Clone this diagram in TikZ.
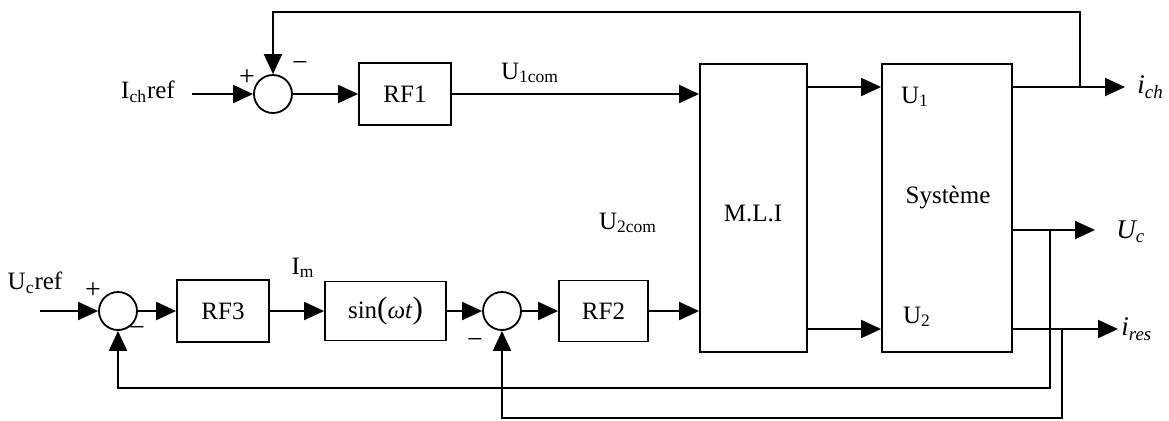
\documentclass[tikz,border=0pt]{standalone}
\usepackage{fontspec}
\setmainfont{Liberation Serif}
\usetikzlibrary{arrows.meta,positioning,calc}
\tikzset{
  blk/.style={draw,line width=.9pt,minimum width=46pt,minimum height=31pt,inner sep=1pt},
  sumnd/.style={circle,draw,line width=.9pt,minimum size=19pt,inner sep=0pt},
  sarrow/.style={-{Triangle[length=10pt,width=9pt]},line width=1pt},
  sgn/.style={inner sep=0pt,font=\fontsize{14}{14}\selectfont},
  txt/.style={inner sep=0pt},
  outlbl/.style={anchor=west,inner sep=0pt,font=\fontsize{13.5}{15}\selectfont\itshape}
}

\begin{document}
\begin{tikzpicture}[x=0.5pt,y=-0.5pt,font=\fontsize{12.5}{14}\selectfont]
  \useasboundingbox (0,0) rectangle (1169,420);
  % top loop
  \node[txt] (ichref) at (148,92) {I\textsubscript{ch}ref};
  \coordinate (in1) at (192,94);
  \node[sumnd] (s1) at (273,94) {};
  \node[sgn] (p1) at (247,78) {+};
  \node[sgn] (m1) at (300,66) {−};
  \node[blk] (rf1) at (405,94) {RF1};
  \node[txt] (u1com) at (530,73) {U\textsubscript{1com}};
  % bottom loop
  \node[txt] (ucref) at (35,283) {U\textsubscript{c}ref};
  \coordinate (in3) at (40,311);
  \node[sumnd] (s3) at (118,311) {};
  \node[sgn] (p3) at (93,291) {+};
  \node[sgn] (m3) at (137,331) {−};
  \node[blk] (rf3) at (223,311) {RF3};
  \node[blk,minimum width=60.5pt,minimum height=29.5pt] (sinw) at (385.5,311)
    {sin{\fontsize{15.5}{15}\selectfont(}\textit{ωt}{\fontsize{15.5}{15}\selectfont)}};
  \node[txt] (im) at (303,268) {I\textsubscript{m}};
  \node[sumnd] (s2) at (502,311) {};
  \node[sgn] (m2) at (475,343) {−};
  \node[blk,minimum width=44.5pt,minimum height=30.5pt] (rf2) at (603.5,311) {RF2};
  \node[txt] (u2com) at (628,223) {U\textsubscript{2com}};
  % converter and plant
  \node[blk,minimum width=53.5pt,minimum height=144pt] (mli) at (753.5,208) {};
  \node[txt] (mliname) at (753,213) {M.L.I};
  \node[blk,minimum width=65pt,minimum height=144pt] (sys) at (947,208) {};
  \node[txt] (sysname) at (948,197) {Système};
  \node[txt] (u1) at (915,97) {U\textsubscript{1}};
  \node[txt] (u2) at (917,317) {U\textsubscript{2}};
  % outputs
  \coordinate (ich) at (1125,87);
  \coordinate (uc) at (1095,230);
  \coordinate (ires) at (1118,329);
  \node[outlbl] (ichname) at (1137,87) {i\textsubscript{ch}};
  \node[outlbl] (ucname) at (1116,232) {U\textsubscript{c}};
  \node[outlbl] (iresname) at (1121,329) {i\textsubscript{res}};
  % feedback corners
  \coordinate (fbtop) at (1080,12);
  \coordinate (fbuc) at (1050,388);
  \coordinate (fbres) at (1062,418);

  \draw[sarrow] (in1) -- (s1);
  \draw[sarrow] (s1) -- (rf1);
  \draw[sarrow] (rf1) -- (rf1 -| mli.west);
  \draw[sarrow] (in3) -- (s3);
  \draw[sarrow] (s3) -- (rf3);
  \draw[sarrow] (rf3) -- (sinw);
  \draw[sarrow] (sinw) -- (s2);
  \draw[sarrow] (s2) -- (rf2);
  \draw[sarrow] (rf2) -- (rf2 -| mli.west);
  \draw[sarrow] (mli.east |- ich) -- (sys.west |- ich);
  \draw[sarrow] (mli.east |- ires) -- (sys.west |- ires);
  \draw[sarrow] (sys.east |- ich) -- (ich);
  \draw[sarrow] (sys.east |- uc) -- (uc);
  \draw[sarrow] (sys.east |- ires) -- (ires);
  \draw[sarrow] (fbtop |- ich) |- (s1 |- fbtop) -- (s1.north);
  \draw[sarrow] (fbuc |- uc) -- (fbuc) -| (s3.south);
  \draw[sarrow] (fbres |- ires) -- (fbres) -| (s2.south);
\end{tikzpicture}
\end{document}
